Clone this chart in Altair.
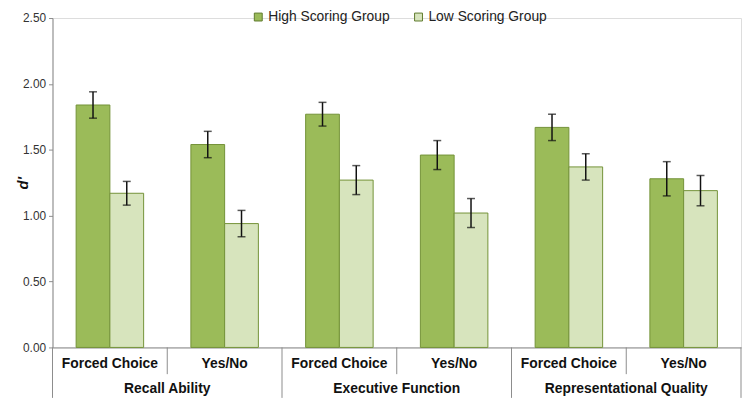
import altair as alt
import pandas as pd

# ---- data ----
groups = ["Recall Ability", "Executive Function", "Representational Quality"]
tasks = ["Forced Choice", "Yes/No"]
series = ["High Scoring Group", "Low Scoring Group"]
high_means = [1.84, 1.54, 1.77, 1.46, 1.67, 1.28]
high_err = [0.10, 0.10, 0.09, 0.11, 0.10, 0.13]
low_means = [1.17, 0.94, 1.27, 1.02, 1.37, 1.19]
low_err = [0.09, 0.10, 0.11, 0.11, 0.10, 0.115]
y_ticks = [0, 0.5, 1.0, 1.5, 2.0, 2.5]
colors = ["#9BBB59", "#D7E4BD"]

rows, cats, lab = [], [], []
for gi, g in enumerate(groups):
    for ti, t in enumerate(tasks):
        i = gi * 2 + ti
        key = f"{g}|{t}"
        cats.append(key)
        lab.append({"cat": key, "group": g, "task": t})
        for s, m, e in ((series[0], high_means[i], high_err[i]),
                        (series[1], low_means[i], low_err[i])):
            rows.append({"cat": key, "series": s, "mean": m, "lo": m - e, "hi": m + e})
df = pd.DataFrame(rows)
labels_df = pd.DataFrame(lab)

W, H = 696, 333
FONT = "Liberation Sans"
GRAY = "#8c8c8c"

xscale = alt.Scale(domain=cats, paddingInner=0, paddingOuter=0)
xaxis = alt.Axis(labels=False, ticks=False, title=None, grid=False, domainColor=GRAY)


def xenc(band=None):
    if band is None:
        return alt.X("cat:N", scale=xscale, axis=xaxis)
    return alt.X("cat:N", scale=xscale, axis=xaxis, bandPosition=band)


xoff = alt.XOffset("series:N", scale=alt.Scale(domain=series, paddingOuter=0.7, paddingInner=0))
yscale = alt.Scale(domain=[0, 2.5], nice=False, zero=True)
yaxis = alt.Axis(values=y_ticks, format=".2f", title="d'", grid=False,
                 labelFont=FONT, labelFontSize=12, labelColor="#333",
                 tickSize=4, tickColor=GRAY, domainColor=GRAY, labelPadding=3,
                 titleFont=FONT, titleFontSize=15, titleFontStyle="italic",
                 titleFontWeight="bold", titleColor="#111",
                 titleAngle=270, titleX=-30, titleY=H / 2,
                 titleAlign="center", titleBaseline="middle")


def yenc(field):
    return alt.Y(field, scale=yscale, axis=yaxis)


bars = alt.Chart(df).mark_bar(stroke="#739238", strokeWidth=1).encode(
    x=xenc(), xOffset=xoff, y=yenc("mean:Q"),
    color=alt.Color("series:N", scale=alt.Scale(domain=series, range=colors),
                    legend=alt.Legend(title=None, orient="none", legendX=201, legendY=-8,
                                      direction="horizontal", symbolType="square",
                                      symbolSize=64, symbolStrokeColor="#5f7a2e",
                                      symbolStrokeWidth=1, symbolOpacity=1,
                                      labelFont=FONT, labelFontSize=14, labelColor="#222",
                                      labelOffset=3, columnPadding=22)),
)

err = alt.Chart(df).mark_rule(color="#111", strokeWidth=1.5).encode(
    x=xenc(), xOffset=xoff, y=yenc("lo:Q"), y2="hi:Q")
cap_lo = alt.Chart(df).mark_tick(color="#111", thickness=1.5, size=8).encode(
    x=xenc(), xOffset=xoff, y=yenc("lo:Q"))
cap_hi = alt.Chart(df).mark_tick(color="#111", thickness=1.5, size=8).encode(
    x=xenc(), xOffset=xoff, y=yenc("hi:Q"))

sub_div = alt.Chart(labels_df[labels_df.task == tasks[1]]).mark_rule(color=GRAY, strokeWidth=1).encode(
    x=xenc(0), y=alt.value(H), y2=alt.value(H + 27))
grp_div = alt.Chart(labels_df[labels_df.task == tasks[0]]).mark_rule(color=GRAY, strokeWidth=1).encode(
    x=xenc(0), y=alt.value(H), y2=alt.value(H + 51))
end_div = alt.Chart(labels_df.tail(1)).mark_rule(color=GRAY, strokeWidth=1).encode(
    x=xenc(1), y=alt.value(H), y2=alt.value(H + 51))

sub_txt = alt.Chart(labels_df).mark_text(font=FONT, fontSize=14, fontWeight="bold",
                                          color="#111", baseline="middle").encode(
    x=xenc(), y=alt.value(H + 17), text="task:N")
grp_txt = alt.Chart(labels_df[labels_df.task == tasks[1]]).mark_text(
    font=FONT, fontSize=14, fontWeight="bold", color="#111", baseline="middle").encode(
    x=xenc(0), y=alt.value(H + 42), text="group:N")

chart = alt.layer(bars, err, cap_lo, cap_hi, sub_div, grp_div, end_div, sub_txt, grp_txt).properties(
    width=W, height=H,
    padding={"left": 45, "top": 8, "right": 1, "bottom": 51},
    autosize=alt.AutoSizeParams(type="none"),
).configure_view(stroke=None).configure(background="white")

chart.save("out.html", embed_options={"renderer": "svg", "actions": False})
